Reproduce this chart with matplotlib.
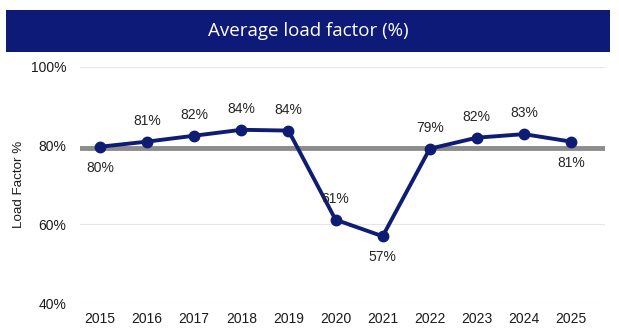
import matplotlib
matplotlib.use("Agg")
import matplotlib.pyplot as plt
from matplotlib.patches import Rectangle

years = ["2015", "2016", "2017", "2018", "2019", "2020", "2021", "2022", "2023", "2024", "2025"]
load_factor = [79.7, 81.0, 82.5, 84.0, 83.8, 61.2, 57.0, 79.2, 82.0, 82.9, 81.0]
labels = ["80%", "81%", "82%", "84%", "84%", "61%", "57%", "79%", "82%", "83%", "81%"]
label_pos = ["below", "above", "above", "above", "above", "above", "below", "above", "above", "above", "below"]
reference_value = 79.3
yticks = [40, 60, 80, 100]

W, H = 619, 334
fig = plt.figure(figsize=(W / 100, H / 100), dpi=100)
fig.patch.set_facecolor("white")

font = ["Liberation Sans", "DejaVu Sans"]
navy = "#0f1c73"

# Title banner
fig.patches.append(Rectangle((6 / W, 1 - 52 / H), 604 / W, 42 / H, transform=fig.transFigure,
                             facecolor="#0d1a78", edgecolor="none", zorder=0))
fig.text(0.5 * (6 + 610) / W, 1 - 31 / H, "Average load factor (%)", color="white",
         ha="center", va="center", fontsize=13.5, family=["Open Sans", "DejaVu Sans"])

left, right = 80, 605
bottom, top = 303.3, 66.7
ax = fig.add_axes([left / W, 1 - bottom / H, (right - left) / W, (bottom - top) / H])
x = list(range(len(years)))
ax.set_xlim(-0.425, 10.72)
ax.set_ylim(40, 100)

for yv in yticks:
    ax.axhline(yv, color="#e6e6e6", lw=0.8, zorder=0)
ax.axhline(reference_value, color="#8c8c8c", lw=3.5, zorder=1, xmin=0, xmax=(603 - left) / (right - left))

ax.plot(x, load_factor, color=navy, lw=2.8, marker="o", markersize=7.5, zorder=3)

for xi, v, lab, pos in zip(x, load_factor, labels, label_pos):
    if pos == "above":
        ax.annotate(lab, (xi, v), xytext=(0, 10), textcoords="offset points", ha="center", va="bottom",
                    fontsize=10, family=font, color="#262626")
    else:
        ax.annotate(lab, (xi, v), xytext=(0, -10), textcoords="offset points", ha="center", va="top",
                    fontsize=10, family=font, color="#262626")

ax.set_xticks(x)
ax.set_xticklabels(years, fontsize=10, family=font, color="#1a1a1a")
ax.set_yticks(yticks)
ax.set_yticklabels([f"{v}%" for v in yticks], fontsize=10, family=font, color="#1a1a1a")
ax.tick_params(length=0, pad=6)
ax.tick_params(axis="y", pad=10)
for s in ax.spines.values():
    s.set_visible(False)

fig.text(19 / W, 1 - 184 / H, "Load Factor %", rotation=90, ha="center", va="center",
         fontsize=9.6, family=font, color="#1a1a1a")

fig.savefig("out.png", dpi=100, facecolor="white")
